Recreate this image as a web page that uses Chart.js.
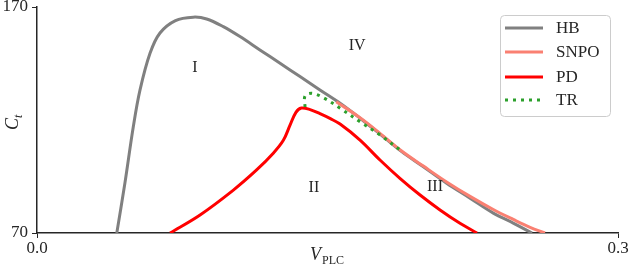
<!DOCTYPE html>
<html>
<head>
<meta charset="utf-8">
<script src="https://cdn.jsdelivr.net/npm/chart.js@4"></script>
<style>
  html, body { margin: 0; padding: 0; background: #fff; }
  #wrap { width: 630px; height: 267px; }
</style>
</head>
<body>
<div id="wrap"><canvas id="bif"></canvas></div>
<script>
// values (V_PLC, C_t)
const hbV = [0.0412, 0.0454, 0.0497, 0.0532, 0.0584, 0.0635, 0.0715, 0.0807, 0.0876, 0.0962, 0.1048, 0.1151, 0.1255, 0.1358, 0.1461, 0.1565, 0.1668, 0.1771, 0.1883, 0.1995, 0.2115, 0.2236, 0.2356, 0.2459, 0.2556];
const hbC = [70.0, 92.1, 116.9, 133.3, 149.6, 158.5, 164.0, 165.5, 164.7, 161.3, 156.9, 151.0, 145.1, 139.2, 133.3, 127.4, 120.8, 113.8, 106.0, 99.3, 92.0, 85.4, 78.8, 74.4, 70.0];

const snpoV = [0.1545, 0.1668, 0.1771, 0.1883, 0.1995, 0.2115, 0.2236, 0.2356, 0.2459, 0.2546, 0.2623];
const snpoC = [128.1, 121.0, 114.1, 106.3, 99.6, 92.6, 86.2, 80.4, 76.0, 72.5, 70.0];

const pdV = [0.0687, 0.0842, 0.1014, 0.1134, 0.1220, 0.1272, 0.1306, 0.1337, 0.1365, 0.1410, 0.1461, 0.1515, 0.1565, 0.1668, 0.1771, 0.1874, 0.1978, 0.2081, 0.2184, 0.2272];
const pdC = [70.0, 78.0, 89.0, 97.9, 105.3, 111.0, 117.6, 123.4, 125.3, 124.6, 122.8, 120.6, 118.2, 111.1, 102.3, 94.2, 86.8, 80.2, 74.3, 70.0];

const trV = [0.1384, 0.1384, 0.1420, 0.1478, 0.1565, 0.1668, 0.1771, 0.1880];
const trC = [125.7, 130.6, 131.8, 129.9, 125.2, 119.2, 113.4, 106.4];

const xTicks = [0.0, 0.3];
const yTicks = [70, 170];

const regionNames = ['I', 'II', 'III', 'IV'];
const regionV = [0.0816, 0.1430, 0.2055, 0.1653];
const regionC = [143.0, 89.9, 90.4, 152.7];

const serif = '"Liberation Serif", "DejaVu Serif", serif';
const ink = '#262626';

function pts(xs, ys) {
    return xs.map((x, i) => ({ x: x, y: ys[i] }));
}

const series = [
    { label: 'HB',   data: pts(hbV, hbC),     borderColor: '#808080', dash: [],     order: 4 },
    { label: 'SNPO', data: pts(snpoV, snpoC), borderColor: '#fa8072', dash: [],     order: 3 },
    { label: 'PD',   data: pts(pdV, pdC),     borderColor: '#ff0000', dash: [],     order: 2 },
    { label: 'TR',   data: pts(trV, trC),     borderColor: '#2ca02c', dash: [3, 5], order: 1 },
];

// axis titles with subscripts, region labels and the legend box
const extras = {
    id: 'extras',
    afterDraw(chart) {
        const ctx = chart.ctx;
        const xs = chart.scales.x, ys = chart.scales.y;
        ctx.save();
        ctx.fillStyle = ink;
        ctx.textBaseline = 'middle';
        ctx.textAlign = 'center';
        ctx.font = '16px ' + serif;
        regionNames.forEach((n, i) => {
            ctx.fillText(n, xs.getPixelForValue(regionV[i]), ys.getPixelForValue(regionC[i]));
        });

        // x title: V_PLC
        ctx.textAlign = 'left';
        ctx.textBaseline = 'alphabetic';
        ctx.font = 'italic 18px ' + serif;
        ctx.fillText('V', 310, 260);
        ctx.font = '12px ' + serif;
        ctx.fillText('PLC', 322, 264);

        // y title: C_t (rotated)
        ctx.translate(18, 122);
        ctx.rotate(-Math.PI / 2);
        ctx.font = 'italic 18px ' + serif;
        ctx.fillText('C', -8, 0);
        ctx.font = 'italic 12px ' + serif;
        ctx.fillText('t', 4, 4);
        ctx.restore();

        // legend
        ctx.save();
        ctx.fillStyle = 'rgba(255,255,255,0.8)';
        ctx.strokeStyle = '#cccccc';
        ctx.lineWidth = 1;
        ctx.beginPath();
        ctx.roundRect(500.5, 15.5, 110, 101, 4);
        ctx.fill();
        ctx.stroke();
        const rows = [28, 52, 77, 100];
        series.forEach((s, i) => {
            ctx.strokeStyle = s.borderColor;
            ctx.lineWidth = 3;
            ctx.setLineDash(s.dash);
            ctx.beginPath();
            ctx.moveTo(505, rows[i]);
            ctx.lineTo(543, rows[i]);
            ctx.stroke();
            ctx.setLineDash([]);
            ctx.fillStyle = ink;
            ctx.font = '17px ' + serif;
            ctx.textAlign = 'left';
            ctx.textBaseline = 'middle';
            ctx.fillText(s.label, 556, rows[i] + 1);
        });
        ctx.restore();
    }
};

new Chart(document.getElementById('bif'), {
    type: 'scatter',
    data: {
        datasets: series.map(s => ({
            label: s.label,
            data: s.data,
            showLine: true,
            borderColor: s.borderColor,
            borderWidth: 3,
            borderDash: s.dash,
            pointRadius: 0,
            tension: 0.35,
            fill: false,
            order: s.order
        }))
    },
    options: {
        responsive: true,
        maintainAspectRatio: false,
        animation: false,
        layout: { padding: { top: 7, right: 12, left: 0, bottom: 0 } },
        plugins: {
            legend: { display: false },
            tooltip: { enabled: false }
        },
        scales: {
            x: {
                type: 'linear',
                min: 0,
                max: 0.3,
                afterBuildTicks: scale => { scale.ticks = xTicks.map(v => ({ value: v })); },
                afterFit: scale => {
                    scale.height = 34;
                    scale.paddingLeft = 0;
                    scale.paddingRight = 0;
                },
                ticks: {
                    callback: v => v.toFixed(1),
                    color: ink,
                    font: { family: serif, size: 17 },
                    padding: 0,
                    maxRotation: 0
                },
                grid: { drawOnChartArea: false, drawTicks: true, tickLength: 5, color: ink },
                border: { display: true, color: ink, width: 1.5 }
            },
            y: {
                type: 'linear',
                min: 70,
                max: 170,
                afterBuildTicks: scale => { scale.ticks = yTicks.map(v => ({ value: v })); },
                afterFit: scale => {
                    scale.width = 37;
                    scale.paddingTop = 0;
                    scale.paddingBottom = 0;
                },
                ticks: {
                    callback: v => String(v),
                    color: ink,
                    font: { family: serif, size: 17 },
                    padding: 4
                },
                grid: { drawOnChartArea: false, drawTicks: true, tickLength: 5, color: ink },
                border: { display: true, color: ink, width: 1.5 }
            }
        }
    },
    plugins: [extras]
});
</script>
</body>
</html>
